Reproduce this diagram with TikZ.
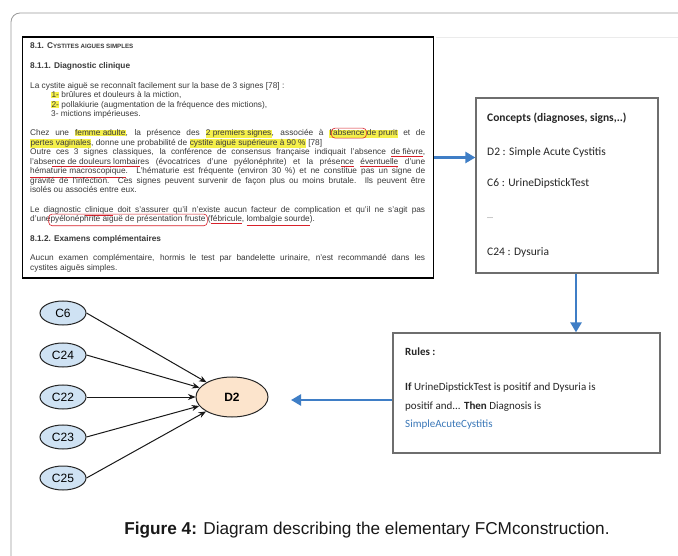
\documentclass[tikz,border=0pt]{standalone}
\usepackage{fontspec}
\setmainfont{Liberation Sans}
\newfontfamily\calib{Carlito}
\usetikzlibrary{arrows.meta,shapes.geometric}
\definecolor{bluearr}{HTML}{3F7EC6}
\definecolor{framegray}{HTML}{9A9A9A}
\definecolor{boxgray}{HTML}{6E6E6E}
\definecolor{docgray}{HTML}{3A3A3A}
\definecolor{hly}{HTML}{F5F04A}
\definecolor{cblue}{HTML}{CFE2F3}
\definecolor{dfill}{HTML}{FCE4CC}
\definecolor{rulblue}{HTML}{3B78B8}
\definecolor{markred}{HTML}{D8202A}
\newcommand\hlt[1]{{\fboxsep=0.3pt\colorbox{hly}{#1}}}
\newcommand\rul[1]{{\color{markred}\underline{\textcolor{docgray}{#1}}}}
\newcommand\redmark[1]{\tikz[baseline=(rc.base)]{\node[inner sep=0pt,text=docgray](rc){#1};\draw[overlay,markred,line width=0.6pt,rounded corners=3.5pt]([shift={(-1.6pt,-1.8pt)}]rc.south west) rectangle ([shift={(1.6pt,1.6pt)}]rc.north east);}}
\begin{document}
\begin{tikzpicture}[x=1pt,y=-1pt,
  docline/.style={anchor=base west,inner sep=0pt,text=docgray,font=\fontsize{8.3}{9.5}\selectfont},
  docbox/.style={draw=black,line width=1.3pt,rectangle,inner sep=0pt},
  infobox/.style={draw=boxgray,line width=1.3pt,rectangle,inner sep=0pt,fill=white},
  ctext/.style={anchor=west,inner sep=0pt,text=black!85,font=\calib\fontsize{11.5}{13}\selectfont},
  rtext/.style={anchor=west,inner sep=0pt,text=black!85,font=\calib\fontsize{11}{13}\selectfont},
  bluearrow/.style={draw=bluearr,line width=2.8pt,-{Triangle[width=11pt,length=10pt]}},
  cnode/.style={ellipse,draw=black!85,line width=1pt,fill=cblue,minimum width=46pt,minimum height=24pt,inner sep=0pt,font=\fontsize{12}{12}\selectfont},
  dnode/.style={ellipse,draw=black!85,line width=1pt,fill=dfill,minimum width=72pt,minimum height=40pt,inner sep=0pt,font=\bfseries\fontsize{12}{12}\selectfont},
  garrow/.style={draw=black!90,line width=1pt,-{Stealth[length=7.5pt,width=6pt]}}]
\useasboundingbox (0,0) rectangle (678,556);
\fill[white] (0,0) rectangle (678,556);
% outer frame
\draw[framegray,line width=0.8pt,rounded corners=9pt] (11,565) -- (11,13) -- (690,13);
\draw[black!8,line width=0.6pt] (436,37) -- (678,37);
% document excerpt
\node[docbox,minimum width=411pt,minimum height=241pt] (doc) at (228,157.5) {};
\node[docline] (t1) at (30,48.5) {\textbf{8.1. C{\fontsize{6.2}{7}\selectfont YSTITES AIGUES SIMPLES}}};
\node[docline] (t2) at (30,68.5) {\textbf{8.1.1. Diagnostic clinique}};
\node[docline] (t3) at (30,88.5) {La cystite aiguë se reconnaît facilement sur la base de 3 signes [78] :};
\node[docline] (t4) at (51,98) {\hlt{1-} brûlures et douleurs à la miction,};
\node[docline] (t5) at (51,107.5) {\hlt{2-} pollakiurie (augmentation de la fréquence des mictions),};
\node[docline] (t6) at (51,117) {3- mictions impérieuses.};
\node[docline] (t7) at (30,136) {\makebox[395pt][s]{Chez une \hlt{femme adulte}, la présence des \hlt{2 premiers signes}, associée à \hlt{l'\redmark{absence} de prurit} et de}};
\node[docline] (t8) at (30,145.5) {\hlt{pertes vaginales}, donne une probabilité de \hlt{cystite aiguë supérieure à 90 \%} [78]};
\node[docline] (t9) at (30,155) {\makebox[395pt][s]{Outre ces 3 signes classiques, la conférence de consensus française indiquait l'absence \rul{de fièvre},}};
\node[docline] (t10) at (30,164.5) {\makebox[395pt][s]{l'abse\rul{nce de douleurs lombair}es (évocatrices d'une pyélonéphrite) et la prése\rul{nce} \rul{éventuelle} d'une}};
\node[docline] (t11) at (30,174) {\makebox[395pt][s]{\rul{hématurie macroscopique}. L'hématurie est fréquente (environ 30 \%) et ne constitue pas un signe de}};
\node[docline] (t12) at (30,183.5) {\makebox[395pt][s]{gravité de l'infection. Ces signes peuvent survenir de façon plus ou moins brutale. Ils peuvent être}};
\node[docline] (t13) at (30,193) {isolés ou associés entre eux.};
\node[docline] (t14) at (30,212.5) {\makebox[395pt][s]{Le diagnostic \rul{clinique} doit s'assurer qu'il n'existe aucun facteur de complication et qu'il ne s'agit pas}};
\node[docline] (t15) at (30,222) {d'une\redmark{pyélonéphrite aiguë de présentation fruste} (\rul{fébricule}, \rul{lombalgie sourde}).};
\node[docline] (t16) at (30,241.5) {\textbf{8.1.2. Examens complémentaires}};
\node[docline] (t17) at (30,261) {\makebox[395pt][s]{Aucun examen complémentaire, hormis le test par bandelette urinaire, n'est recommandé dans les}};
\node[docline] (t18) at (30,270.5) {cystites aiguës simples.};
% concepts box
\node[infobox,minimum width=182pt,minimum height=175pt] (concepts) at (567,185.5) {};
\node[ctext] (k1) at (487,118) {\textbf{Concepts (diagnoses, signs,..)}};
\node[ctext] (k2) at (487,152) {D2 : Simple Acute Cystitis};
\node[ctext] (k3) at (487,183) {C6 : UrineDipstickTest};
\node[ctext,font=\calib\fontsize{8}{9}\selectfont,text=black!60] (k4) at (487,218) {...};
\node[ctext] (k5) at (487,252) {C24 : Dysuria};
% rules box
\node[infobox,minimum width=267pt,minimum height=120pt] (rules) at (526.5,393) {};
\node[rtext] (r1) at (405,352) {\textbf{Rules :}};
\node[rtext] (r2) at (405,388) {\textbf{If} UrineDipstickTest is positif and Dysuria is};
\node[rtext] (r3) at (405,407) {positif and... \textbf{Then} Diagnosis is};
\node[rtext] (r4) at (405,425) {\textcolor{rulblue}{SimpleAcuteCystitis}};
% blue arrows
\draw[bluearrow] (doc.east) -- (doc.east -| concepts.west);
\draw[bluearrow] ([xshift=9pt]concepts.south) -- ([xshift=9pt]concepts.south |- rules.north);
\coordinate (arrend) at (291,400);
\draw[bluearrow] (rules.west |- arrend) -- (arrend);
% FCM graph
\node[cnode] (c6) at (63,313) {C6};
\node[cnode] (c24) at (63,355) {C24};
\node[cnode] (c22) at (63,397) {C22};
\node[cnode] (c23) at (63,437) {C23};
\node[cnode] (c25) at (63,478) {C25};
\node[dnode] (d2) at (232,397) {D2};
\draw[garrow] (c6.east) -- (d2);
\draw[garrow] (c24.east) -- (d2);
\draw[garrow] (c22.east) -- (d2);
\draw[garrow] (c23.east) -- (d2);
\draw[garrow] (c25.east) -- (d2);
% caption
\node[inner sep=0pt,font=\fontsize{17.2}{19}\selectfont,text=black!90] (cap) at (367,530) {\textbf{Figure 4:} Diagram describing the elementary FCMconstruction.};
\end{tikzpicture}
\end{document}
